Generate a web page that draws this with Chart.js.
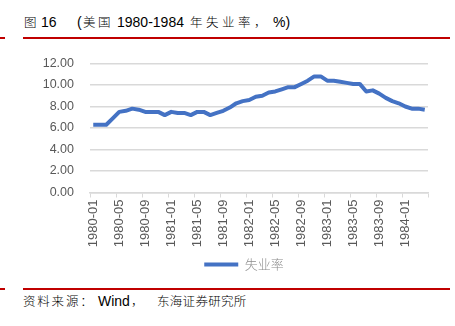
<!DOCTYPE html>
<html lang="zh-CN">
<head>
<meta charset="UTF-8">
<title>美国失业率</title>
<script src="https://cdn.jsdelivr.net/npm/chart.js"></script>
<style>
    html, body { margin: 0; padding: 0; background: #fff; }
    body { width: 455px; height: 326px; position: relative; overflow: hidden; }
    .line-text { position: absolute; left: 0; width: 455px; height: 20px; color: #000; white-space: nowrap; }
    .line-text span { position: absolute; top: 0; line-height: 20px; }
    .lat { font-family: "Liberation Sans", Arial, sans-serif; font-size: 14px; }
    .cjk { font-family: "Noto Sans CJK SC", sans-serif; font-size: 12.5px; font-weight: 300; }
    .rule { position: absolute; height: 2px; background: #c00000; }
    .chart-box { position: absolute; left: 0; top: 40px; width: 455px; height: 242px; }
</style>
</head>
<body>
    <div class="line-text" style="top:12px">
        <span class="cjk" style="left:24px">图</span>
        <span class="lat" style="left:41px">16</span>
        <span class="lat" style="left:77px">(</span>
        <span class="cjk" style="left:83px;letter-spacing:2.5px">美国</span>
        <span class="lat" style="left:117px">1980-1984</span>
        <span class="cjk" style="left:190px;letter-spacing:3.5px">年失业率，</span>
        <span class="lat" style="left:273px">%)</span>
    </div>
    <div class="rule" style="left:0;width:5px;top:37px"></div>
    <div class="rule" style="left:23px;width:427px;top:37px"></div>

    <div class="chart-box"><canvas id="chart"></canvas></div>

    <div class="rule" style="left:0;width:5px;top:288px"></div>
    <div class="rule" style="left:23px;width:427px;top:288px"></div>
    <div class="line-text" style="top:291px">
        <span class="cjk" style="left:23px;letter-spacing:1.8px">资料来源：</span>
        <span class="lat" style="left:98px">Wind</span>
        <span class="cjk" style="left:131px">，</span>
        <span class="cjk" style="left:157px;letter-spacing:0.3px">东海证券研究所</span>
    </div>

<script>
    // 月度失业率（%），1980-01 至 1984-04
    const months = [];
    for (let y = 1980; y <= 1984; y++) {
        for (let m = 1; m <= 12; m++) {
            if (y === 1984 && m > 4) break;
            months.push(y + '-' + String(m).padStart(2, '0'));
        }
    }
    const rate1980 = [6.3, 6.3, 6.3, 6.9, 7.5, 7.6, 7.8, 7.7, 7.5, 7.5, 7.5, 7.2];
    const rate1981 = [7.5, 7.4, 7.4, 7.2, 7.5, 7.5, 7.2, 7.4, 7.6, 7.9, 8.3, 8.5];
    const rate1982 = [8.6, 8.9, 9.0, 9.3, 9.4, 9.6, 9.8, 9.8, 10.1, 10.4, 10.8, 10.8];
    const rate1983 = [10.4, 10.4, 10.3, 10.2, 10.1, 10.1, 9.4, 9.5, 9.2, 8.8, 8.5, 8.3];
    const rate1984 = [8.0, 7.8, 7.8, 7.7];
    const unemployment = [...rate1980, ...rate1981, ...rate1982, ...rate1983, ...rate1984];

    const yTicks = [0, 2, 4, 6, 8, 10, 12];
    const blue = '#4472C4';
    const gridGrey = '#d9d9d9';
    const labelGrey = '#595959';
    const axisFont = { family: '"Liberation Sans", Arial, sans-serif', size: 12.5 };

    // nudge the legend right so it sits under the middle of the plot
    const legendShift = {
        id: 'legendShift',
        afterLayout(chart) { chart.legend.left += 60; }
    };

    const ctx = document.getElementById('chart').getContext('2d');
    new Chart(ctx, {
        type: 'line',
        data: {
            labels: months,
            datasets: [{
                label: '失业率',
                data: unemployment,
                borderColor: blue,
                backgroundColor: blue,
                borderWidth: 4,
                pointRadius: 0,
                tension: 0,
                borderJoinStyle: 'round'
            }]
        },
        options: {
            responsive: true,
            maintainAspectRatio: false,
            animation: false,
            layout: { padding: { left: 0, right: 27, top: 13, bottom: 1 } },
            plugins: {
                tooltip: { enabled: false },
                legend: {
                    position: 'bottom',
                    labels: {
                        font: { family: '"Noto Sans CJK SC", sans-serif', size: 13, weight: 300 },
                        color: '#8c8c8c',
                        boxWidth: 34,
                        boxHeight: 4,
                        padding: 8,
                        generateLabels: (chart) => chart.data.datasets.map((ds, i) => ({
                            text: ds.label,
                            fillStyle: ds.borderColor,
                            strokeStyle: ds.borderColor,
                            lineWidth: 0,
                            fontColor: '#8c8c8c',
                            datasetIndex: i
                        }))
                    }
                }
            },
            scales: {
                x: {
                    offset: true,
                    grid: {
                        offset: true,
                        drawOnChartArea: false,
                        drawTicks: true,
                        tickLength: 5,
                        color: (c) => (c.index === undefined || c.index % 4 === 0) ? gridGrey : 'rgba(0,0,0,0)'
                    },
                    border: { display: true, color: gridGrey, width: 1.5 },
                    ticks: {
                        autoSkip: false,
                        minRotation: 90,
                        maxRotation: 90,
                        padding: 2,
                        color: labelGrey,
                        font: { family: '"Liberation Sans", Arial, sans-serif', size: 13 },
                        callback: function (v, i) { return i % 4 === 0 ? this.getLabelForValue(v) : ''; }
                    },
                    afterFit: (scale) => { scale.height = 57.5; }
                },
                y: {
                    min: 0,
                    max: 12,
                    afterBuildTicks: (scale) => { scale.ticks = yTicks.map(v => ({ value: v })); },
                    grid: { color: gridGrey, drawTicks: false, lineWidth: 1.5 },
                    border: { display: false },
                    ticks: {
                        padding: 16,
                        color: labelGrey,
                        font: axisFont,
                        callback: (v) => v.toFixed(2)
                    },
                    afterFit: (scale) => { scale.width = 90; }
                }
            }
        },
        plugins: [legendShift]
    });
</script>
</body>
</html>
